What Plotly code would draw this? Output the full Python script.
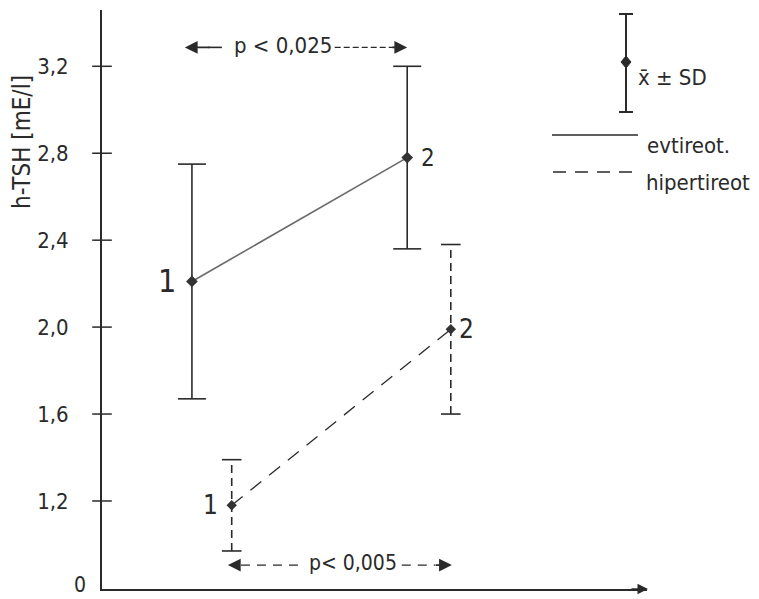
import plotly.graph_objects as go

# ---------------- data ----------------
groups = ["evtireot.", "hipertireot"]
point_labels = ["1", "2"]
x_evtireot = [1.65, 5.6]
x_hipertireot = [2.38, 6.4]
mean_evtireot = [2.21, 2.78]
sd_evtireot = [0.54, 0.42]
mean_hipertireot = [1.18, 1.99]
sd_hipertireot = [0.21, 0.39]
tick_vals = [0.8, 1.2, 1.6, 2.0, 2.4, 2.8, 3.2]
tick_text = ["0", "1,2", "1,6", "2,0", "2,4", "2,8", "3,2"]
y_title = "h-TSH [mE/l]"
p_top = "p < 0,025"
p_bottom = "p< 0,005"

# ---------------- layout geometry ----------------
W, H = 759, 599
ML, MR, MT, MB = 102, 112, 10, 10
PW, PH = W - ML - MR, H - MT - MB
YR = [0.795, 3.459]
XR = [0, 10]

def pxx(px):
    return (px - ML) / PW

def pxy(py):
    return (H - MB - py) / PH

FONT = "Liberation Sans Narrow, DejaVu Sans Condensed, DejaVu Sans"
INK = "#2a2a2a"

fig = go.Figure()

def err_segments(xs, ms, sds):
    xx, yy = [], []
    for x, m, s in zip(xs, ms, sds):
        xx += [x, x, None]
        yy += [m - s, m + s, None]
    return xx, yy

# error bars evtireot (solid)
ex, ey = err_segments(x_evtireot, mean_evtireot, sd_evtireot)
fig.add_trace(go.Scatter(x=ex, y=ey, mode="lines", line=dict(color=INK, width=1.6),
                         hoverinfo="skip", showlegend=False))
fig.add_trace(go.Scatter(
    x=x_evtireot + x_evtireot,
    y=[m - s for m, s in zip(mean_evtireot, sd_evtireot)] + [m + s for m, s in zip(mean_evtireot, sd_evtireot)],
    mode="markers", marker=dict(symbol="line-ew-open", size=20, color=INK, line=dict(color=INK, width=1.6)),
    hoverinfo="skip", showlegend=False))

# error bars hipertireot (dashed)
hx, hy = err_segments(x_hipertireot, mean_hipertireot, sd_hipertireot)
fig.add_trace(go.Scatter(x=hx, y=hy, mode="lines", line=dict(color=INK, width=1.6, dash="8px,5px"),
                         hoverinfo="skip", showlegend=False))
fig.add_trace(go.Scatter(
    x=x_hipertireot + x_hipertireot,
    y=[m - s for m, s in zip(mean_hipertireot, sd_hipertireot)] + [m + s for m, s in zip(mean_hipertireot, sd_hipertireot)],
    mode="markers", marker=dict(symbol="line-ew-open", size=14, color=INK, line=dict(color=INK, width=1.6)),
    hoverinfo="skip", showlegend=False))

# connecting lines + means
fig.add_trace(go.Scatter(x=x_evtireot, y=mean_evtireot, mode="lines+markers", name=groups[0],
                         line=dict(color="#6a6a6a", width=1.6),
                         marker=dict(symbol="diamond", size=9, color="#333333"), showlegend=False))
fig.add_trace(go.Scatter(x=x_hipertireot, y=mean_hipertireot, mode="lines+markers", name=groups[1],
                         line=dict(color=INK, width=1.3, dash="14px,10px"),
                         marker=dict(symbol="diamond", size=8, color="#333333"), showlegend=False))

# y-axis tick crosses
fig.add_trace(go.Scatter(x=[XR[0]] * (len(tick_vals) - 1), y=tick_vals[1:], mode="markers", cliponaxis=False,
                         marker=dict(symbol="line-ew-open", size=14, color=INK, line=dict(color=INK, width=1.5)),
                         hoverinfo="skip", showlegend=False))

# p-value arrows
y_top = 3.287
y_bot = 0.905
fig.add_trace(go.Scatter(x=[1.95, 2.2], y=[y_top, y_top], mode="lines",
                         line=dict(color=INK, width=1.6), hoverinfo="skip", showlegend=False))
fig.add_trace(go.Scatter(x=[4.27, 5.35], y=[y_top, y_top], mode="lines",
                         line=dict(color=INK, width=1.3, dash="6px,3px"), hoverinfo="skip", showlegend=False))
fig.add_trace(go.Scatter(x=[2.55, 3.72], y=[y_bot, y_bot], mode="lines",
                         line=dict(color=INK, width=1.3, dash="9px,7px"), hoverinfo="skip", showlegend=False))
fig.add_trace(go.Scatter(x=[5.5, 6.12], y=[y_bot, y_bot], mode="lines",
                         line=dict(color=INK, width=1.3, dash="9px,7px"), hoverinfo="skip", showlegend=False))

ann = []
def arrow(xtip, xtail, y):
    ann.append(dict(x=xtip, y=y, ax=xtail, ay=y, xref="x", yref="y", axref="x", ayref="y",
                    text="", showarrow=True, arrowhead=2, arrowsize=1.6, arrowwidth=1.6, arrowcolor=INK))

arrow(x_evtireot[0] - 0.13, 2.0, y_top)
arrow(x_evtireot[1], 5.3, y_top)
arrow(x_hipertireot[0] - 0.07, 2.55, y_bot)
arrow(x_hipertireot[1] + 0.02, 6.1, y_bot)

ann.append(dict(x=3.32, y=y_top, xref="x", yref="y", text=p_top, showarrow=False,
                font=dict(family=FONT, size=22, color=INK), yshift=2))
ann.append(dict(x=4.6, y=y_bot, xref="x", yref="y", text=p_bottom, showarrow=False,
                font=dict(family=FONT, size=21, color=INK), yshift=2))

# point labels
for xs, ms, shifts, sizes in [(x_evtireot, mean_evtireot, [-25, 21], [32, 24]),
                              (x_hipertireot, mean_hipertireot, [-21, 16], [26, 26])]:
    for x, m, lab, sh, sz in zip(xs, ms, point_labels, shifts, sizes):
        ann.append(dict(x=x, y=m, xref="x", yref="y", text=lab, showarrow=False, xshift=sh,
                        font=dict(family=FONT, size=sz, color=INK)))

# y-axis title
ann.append(dict(x=pxx(22), y=pxy(142), xref="paper", yref="paper", xanchor="center", yanchor="middle",
                text=y_title, textangle=-90,
                showarrow=False, font=dict(family=FONT, size=24, color=INK)))

# "0" label at the broken origin (kept inside the page)
ann.append(dict(x=pxx(80), y=0, xref="paper", yref="paper", xanchor="center", yanchor="bottom",
                yshift=-9, borderpad=0, text=tick_text[0], showarrow=False,
                font=dict(family=FONT, size=21, color=INK)))

# x-axis arrow head
ann.append(dict(x=pxx(648), y=0, xref="paper", yref="paper", ax=-18, ay=0, text="", showarrow=True,
                arrowhead=2, arrowsize=1.4, arrowwidth=1.5, arrowcolor=INK))

# legend
shapes = []
lx = 626
shapes.append(dict(type="line", xref="paper", yref="paper", x0=pxx(lx), x1=pxx(lx), y0=pxy(14), y1=pxy(112),
                   line=dict(color=INK, width=2)))
for yy in (14, 112):
    shapes.append(dict(type="line", xref="paper", yref="paper", x0=pxx(lx - 7), x1=pxx(lx + 7), y0=pxy(yy), y1=pxy(yy),
                       line=dict(color=INK, width=2)))
shapes.append(dict(type="path", xref="paper", yref="paper",
                   path=f"M {pxx(lx-5)} {pxy(62)} L {pxx(lx)} {pxy(56)} L {pxx(lx+5)} {pxy(62)} L {pxx(lx)} {pxy(68)} Z",
                   fillcolor=INK, line=dict(color=INK, width=1)))
shapes.append(dict(type="line", xref="paper", yref="paper", x0=pxx(552), x1=pxx(638), y0=pxy(135), y1=pxy(135),
                   line=dict(color=INK, width=1.6)))
shapes.append(dict(type="line", xref="paper", yref="paper", x0=pxx(553), x1=pxx(638), y0=pxy(172), y1=pxy(172),
                   line=dict(color=INK, width=1.6, dash="13px,9px")))
ann.append(dict(x=pxx(636), y=pxy(63), xref="paper", yref="paper", xanchor="left", text="x\u0304 \u00b1 SD",
                showarrow=False, font=dict(family=FONT, size=22, color=INK)))
ann.append(dict(x=pxx(645), y=pxy(131), xref="paper", yref="paper", xanchor="left", text=groups[0],
                showarrow=False, font=dict(family=FONT, size=22, color=INK)))
ann.append(dict(x=pxx(644), y=pxy(168), xref="paper", yref="paper", xanchor="left", text=groups[1],
                showarrow=False, font=dict(family=FONT, size=22, color=INK)))

fig.update_layout(
    width=W, height=H, margin=dict(l=ML, r=MR, t=MT, b=MB, autoexpand=False),
    paper_bgcolor="white", plot_bgcolor="white",
    annotations=ann, shapes=shapes, showlegend=False,
    xaxis=dict(range=XR, showgrid=False, zeroline=False, showticklabels=False, ticks="",
               showline=True, linecolor=INK, linewidth=1.8, automargin=False),
    yaxis=dict(range=YR, showgrid=False, zeroline=False, tickvals=tick_vals[1:], ticktext=tick_text[1:],
               ticks="", ticklabelstandoff=27, automargin=False,
               tickfont=dict(family=FONT, size=22, color=INK),
               showline=True, linecolor=INK, linewidth=1.8),
)

fig.write_html("out.html")
